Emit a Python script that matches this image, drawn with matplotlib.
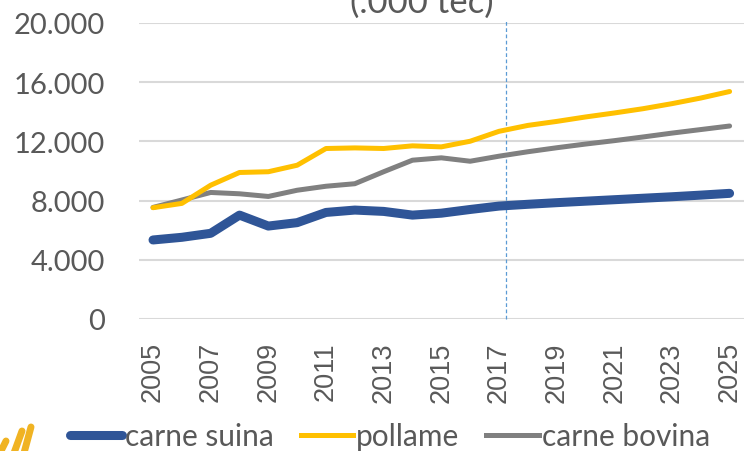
import matplotlib
matplotlib.use("Agg")
import matplotlib.pyplot as plt
from matplotlib.ticker import FuncFormatter, MultipleLocator
from matplotlib.lines import Line2D

years = list(range(2005, 2026))
carne_suina = [5340, 5520, 5790, 7020, 6280, 6510, 7200, 7360, 7270, 7020, 7150,
               7400, 7630, 7750, 7860, 7960, 8060, 8160, 8260, 8370, 8490]
pollame = [7520, 7810, 9040, 9900, 9950, 10390, 11520, 11560, 11520, 11700, 11630,
           12010, 12680, 13080, 13350, 13650, 13920, 14210, 14550, 14930, 15370]
carne_bovina = [7540, 8040, 8550, 8460, 8280, 8700, 8970, 9140, 9950, 10730, 10890,
                10660, 11000, 11300, 11570, 11820, 12050, 12300, 12560, 12800, 13040]
series_names = ["carne suina", "pollame", "carne bovina"]
xtick_years = list(range(2005, 2026, 2))
title_text = "(.000 tec)"
forecast_mark = 2017.25

TXT = "#595959"
fig = plt.figure(figsize=(7.44, 4.52), dpi=100)
ax = fig.add_axes([138.6 / 744, 132 / 452, 1 - 138.6 / 744, 296 / 452])

for s in ["top", "right", "left", "bottom"]:
    ax.spines[s].set_visible(False)

ax.set_xlim(2004.5, 2025.5)
ax.set_ylim(0, 20000)
ax.yaxis.set_major_locator(MultipleLocator(4000))
ax.yaxis.set_major_formatter(FuncFormatter(lambda v, p: f"{int(v):,}".replace(",", ".")))
ax.grid(axis="y", color="#D9D9D9", lw=1.5)
ax.set_axisbelow(True)
ax.tick_params(axis="y", length=0, pad=24, labelsize=21, labelcolor=TXT)
ax.set_xticks(xtick_years)
ax.set_xticklabels([str(y) for y in xtick_years], rotation=90, family="Liberation Sans",
                   fontsize=19.5, color=TXT)
ax.tick_params(axis="x", length=0, pad=16)
for lab in ax.get_yticklabels():
    lab.set_family("Lato")

ax.plot(years, carne_suina, color="#2F5597", lw=6.5, solid_capstyle="round", zorder=3)
ax.plot(years, pollame, color="#FFC000", lw=3.6, solid_capstyle="round", zorder=4)
ax.plot(years, carne_bovina, color="#808080", lw=3.6, solid_capstyle="round", zorder=3)

ax.axvline(forecast_mark, ymin=0, ymax=1.0135, color="#5B9BD5", lw=0.9, ls=(0, (3, 2)),
           clip_on=False, zorder=2)

fig.text(422 / 744, 1 - 13 / 452, title_text, ha="center", va="baseline", fontsize=25,
         family="Lato", color=TXT)

handles = [Line2D([], [], color="#2F5597", lw=6.5, solid_capstyle="round"),
           Line2D([], [], color="#FFC000", lw=3.6),
           Line2D([], [], color="#808080", lw=3.6)]
leg = fig.legend(handles, series_names, loc="center", bbox_to_anchor=(390 / 744, 15 / 452),
                 ncol=3, frameon=False, handlelength=1.75, handletextpad=0.1,
                 columnspacing=0.9, prop={"family": "Lato", "size": 21.5})
for t in leg.get_texts():
    t.set_color(TXT)

# logo strokes (bottom-left)
for (x0, y0, x1, y1) in [(1, 452, 6, 442), (14, 454, 22, 432), (24, 454, 31, 428)]:
    fig.add_artist(Line2D([x0 / 744, x1 / 744], [1 - y0 / 452, 1 - y1 / 452],
                          color="#F0B323", lw=5, solid_capstyle="round"))

fig.savefig("out.png", dpi=100)
